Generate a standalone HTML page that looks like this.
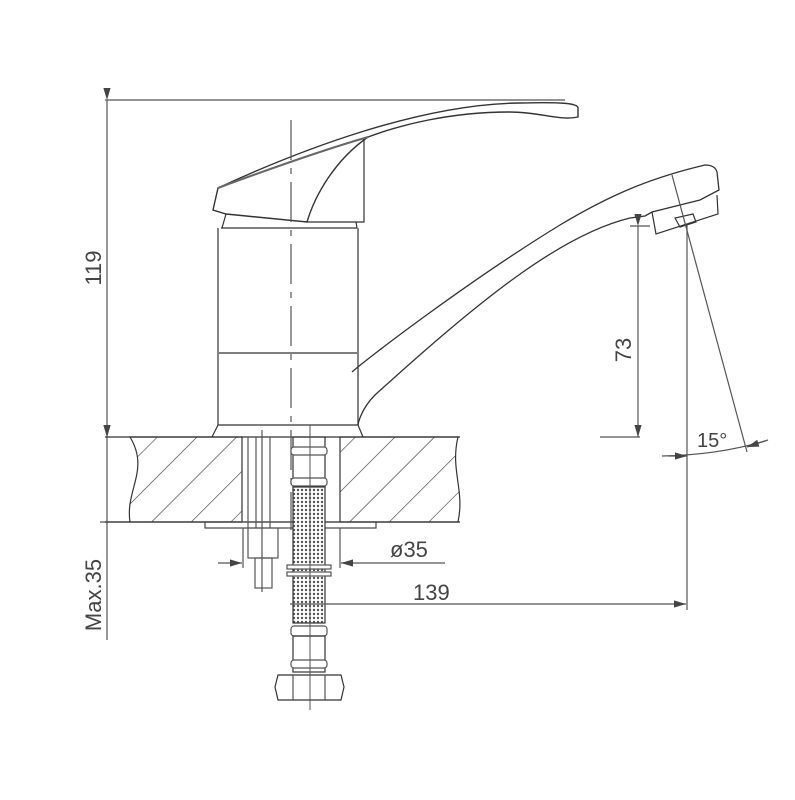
<!DOCTYPE html>
<html><head><meta charset="utf-8"><style>
html,body{margin:0;padding:0;background:#fff;}
svg{display:block;}
text{font-family:"Liberation Sans",sans-serif;fill:#444;}
</style></head><body>
<svg width="795" height="800" viewBox="0 0 795 800" xmlns="http://www.w3.org/2000/svg">
<defs>
<pattern id="h" width="28" height="28" patternUnits="userSpaceOnUse" patternTransform="rotate(45)">
<line x1="0" y1="0" x2="0" y2="28" stroke="#333" stroke-width="1.2"/>
</pattern>
<pattern id="m" width="4" height="4" patternUnits="userSpaceOnUse">
<rect width="4" height="4" fill="#fff"/><circle cx="2" cy="2" r="1.2" fill="#555"/>
</pattern>
<marker id="a" markerWidth="10" markerHeight="6" refX="10" refY="3" orient="auto"><path d="M0,0 L10,3 L0,6z" fill="#444"/></marker>
</defs>
<g stroke="#555" stroke-width="1.2" fill="none">
<line x1="105" y1="100" x2="565" y2="100"/>
<line x1="107" y1="100" x2="107" y2="437" marker-start="url(#a)" marker-end="url(#a)"/>
<line x1="107" y1="437" x2="107" y2="640" marker-start="url(#a)"/>
<line x1="100" y1="522" x2="130" y2="522"/>
<path d="M130,437 C150,470 125,490 130,522 L242,522 L242,437 Z" fill="url(#h)" stroke="#333"/>
<path d="M340,437 L458,437 C450,470 465,490 458,522 L340,522 Z" fill="url(#h)" stroke="#333"/>
<line x1="105" y1="437" x2="460" y2="437" stroke="#333"/>
<line x1="105" y1="522" x2="460" y2="522" stroke="#333"/>
<rect x="205" y="522" width="171" height="6" stroke="#444"/>
<path d="M226,214 L222,228 M356,222 L357,228" stroke="#333"/>
<path d="M221,228 L357,228 M218,228 L218,425 M358,228 L358,425 M219,353 L357,353" stroke="#333"/>
<path d="M218,425 L212,437 M358,425 L363,437 M218,425 L358,425" stroke="#333"/>
<path d="M213,210 L218,188 C300,150 420,104 520,103 C560,102 578,103 578,108 L578,117 C560,121 540,112 510,112 C450,112 400,125 368,137 C335,160 315,195 307,222 L226,214 Z" stroke="#333" stroke-width="1.4"/>
<path d="M218,188 C280,165 330,148 368,137" stroke="#666" stroke-width="2"/>
<path d="M307,222 L364,222 L364,139" stroke="#333"/>
<path d="M352,372 C365,360 470,280 560,225 C610,195 650,178 705,165 Q715,165 717,172 L719,190 L700,200 L652,212 L645,216 L630,218 C560,235 480,300 375,395 C360,410 358,425 358,425" stroke="#333" stroke-width="1.3"/>
<path d="M652,212 L656,234 L718,214 L717,195" stroke="#333"/>
<path d="M675,218 L680,227 L696,222 L693,214 Z" stroke="#333"/>
<line x1="291" y1="120" x2="291" y2="530" stroke-dasharray="40,8,6,8"/>
<line x1="630" y1="226" x2="650" y2="226"/>
<line x1="638" y1="226" x2="638" y2="437" marker-start="url(#a)" marker-end="url(#a)"/>
<line x1="600" y1="437" x2="640" y2="437"/>
<line x1="687" y1="225" x2="687" y2="610"/>
<line x1="672" y1="175" x2="747" y2="452"/>
<path d="M662,456 Q720,455 768,440" />
<line x1="668" y1="456" x2="687" y2="456" marker-end="url(#a)"/>
<line x1="765" y1="441" x2="747" y2="447" marker-end="url(#a)"/>
<line x1="248" y1="437" x2="248" y2="528"/><line x1="270" y1="437" x2="270" y2="528"/>
<line x1="262" y1="430" x2="262" y2="592"/><line x1="256" y1="437" x2="256" y2="528"/>
<rect x="248" y="528" width="30" height="30"/>
<rect x="255" y="558" width="17" height="30"/>
<rect x="293" y="437" width="32" height="50" stroke="#333"/>
<rect x="291" y="447" width="36" height="8" rx="3" fill="#fff"/>
<rect x="291" y="478" width="36" height="8" rx="3" fill="#fff"/>
<rect x="293" y="487" width="32" height="136" fill="url(#m)" stroke="#333"/>
<rect x="287" y="565" width="44" height="4" fill="#fff"/>
<rect x="287" y="572" width="44" height="4" fill="#fff"/>
<rect x="291" y="626" width="36" height="10" rx="3" fill="#fff"/>
<rect x="293" y="636" width="32" height="36" stroke="#333"/>
<rect x="291" y="660" width="36" height="8" rx="3" fill="#fff"/>
<path d="M278,675 L341,675 L344,687 L341,700 L278,700 L275,687 Z" stroke="#333"/>
<line x1="293" y1="675" x2="293" y2="700"/><line x1="325" y1="675" x2="325" y2="700"/>
<line x1="310" y1="425" x2="310" y2="710" stroke-width="1"/>
<line x1="243" y1="528" x2="243" y2="568"/><line x1="340" y1="528" x2="340" y2="568"/>
<line x1="218" y1="563" x2="242" y2="563" marker-end="url(#a)"/>
<line x1="445" y1="563" x2="341" y2="563" marker-end="url(#a)"/>
<line x1="290" y1="604" x2="686" y2="604" marker-end="url(#a)"/>
</g>
<text x="95" y="268" font-size="22" transform="rotate(-90 95 268)" text-anchor="middle" dominant-baseline="middle">119</text>
<text x="95" y="595" font-size="22" transform="rotate(-90 95 595)" text-anchor="middle" dominant-baseline="middle">Max.35</text>
<text x="625" y="350" font-size="22" transform="rotate(-90 625 350)" text-anchor="middle" dominant-baseline="middle">73</text>
<text x="390" y="557" font-size="22">ø35</text>
<text x="413" y="600" font-size="22">139</text>
<text x="697" y="447" font-size="20">15°</text>
</svg>
</body></html>
